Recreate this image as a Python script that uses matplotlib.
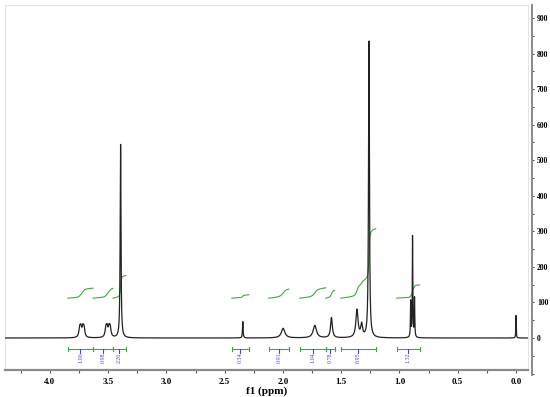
import numpy as np
import matplotlib
matplotlib.use('Agg')
import matplotlib.pyplot as plt
from matplotlib.ticker import MultipleLocator

# ── 피크 목록 (ppm, 높이, 반치반폭) ──────────────────────────────
peak_ppm = [3.745, 3.735, 3.718, 3.708,
            3.520, 3.510, 3.493, 3.483,
            3.394, 2.345, 1.999, 1.727, 1.584,
            1.365, 1.325, 1.262,
            0.904, 0.888, 0.871, 0.000]
peak_height = [24, 24, 24, 24,
               24, 24, 24, 24,
               545, 46, 27, 35, 57,
               78, 35, 835,
               100, 285, 110, 64]
peak_width = [0.008, 0.008, 0.008, 0.008,
              0.008, 0.008, 0.008, 0.008,
              0.004, 0.003, 0.018, 0.017, 0.009,
              0.011, 0.009, 0.0045,
              0.0025, 0.0025, 0.0025, 0.002]

# ── 적분 구간 ────────────────────────────────────────────────
int_start = [3.846, 3.631, 3.460, 2.439, 2.122, 1.856, 1.633, 1.504, 1.024]
int_end = [3.631, 3.460, 3.348, 2.293, 1.950, 1.633, 1.556, 1.204, 0.827]
int_value = [1.00, 0.98, 2.26, 0.34, 0.91, 1.04, 0.78, 6.95, 1.32]

x_ticks = [4.0, 3.5, 3.0, 2.5, 2.0, 1.5, 1.0, 0.5, 0.0]
y_ticks = [0, 100, 200, 300, 400, 500, 600, 700, 800, 900]

# 스펙트럼 계산 (로렌츠 합)
ppm = np.linspace(4.386, -0.103, 9000)
spec = np.zeros_like(ppm)
for c, h, g in zip(peak_ppm, peak_height, peak_width):
    spec += h * g ** 2 / ((ppm - c) ** 2 + g ** 2)

fig = plt.figure(figsize=(5.5, 3.97), dpi=100)
fig.patch.set_facecolor('white')

ax = fig.add_axes([5 / 550, 1 - 370 / 397, 523 / 550, 365 / 397])
ax.set_xlim(4.386, -0.103)
ax.set_ylim(-90, 936.5)
ax.plot(ppm, spec, color='#222222', lw=0.9, zorder=3)

green = '#3cab3c'
blue = '#4a4ac8'
base = 112
scale = 28.1
for s, e, v in zip(int_start, int_end, int_value):
    m = (ppm <= s) & (ppm >= e)
    cum = np.cumsum(spec[m] + 1.5)   # 약간의 기울기
    curve = base + cum / cum[-1] * v * scale
    ax.plot(ppm[m], curve, color=green, lw=0.8, zorder=2)
    # 적분 브래킷
    ax.plot([s, e], [-31, -31], color=green, lw=0.8)
    ax.plot([s, s], [-36, -26], color=green, lw=0.8)
    ax.plot([e, e], [-36, -26], color=green, lw=0.8)
    mid = (s + e) / 2
    ax.plot([mid, mid], [-31, -42], color=blue, lw=0.8)
    ax.text(mid, -55, f'{v:.2f}', rotation=90, ha='center', va='center',
            fontsize=4.3, color=blue, family='Liberation Serif')

for side in ['left', 'top', 'right']:
    ax.spines[side].set_color('#e4e4e4')
ax.spines['bottom'].set_color('#8a8a8a')
ax.spines['bottom'].set_linewidth(1.6)
ax.set_yticks([])
ax.set_xticks(x_ticks)
ax.set_xticklabels([f'{t:.1f}' for t in x_ticks], fontsize=6.5,
                   fontweight='bold', family='Liberation Serif')
ax.xaxis.set_minor_locator(MultipleLocator(0.25))
ax.tick_params(axis='x', which='both', direction='out', length=2,
               width=0.8, color='#555555', pad=4)
ax.set_xlabel('f1 (ppm)', fontsize=8, fontweight='bold',
              family='Liberation Serif', labelpad=0)

# 오른쪽 세로축
rax = fig.add_axes([532 / 550, 1 - 375 / 397, 0.0001, 370 / 397])
rax.set_ylim(-104, 936.5)
rax.patch.set_visible(False)
for side in ['left', 'top', 'bottom']:
    rax.spines[side].set_visible(False)
rax.spines['right'].set_color('#8a8a8a')
rax.spines['right'].set_linewidth(1.4)
rax.set_xticks([])
rax.yaxis.tick_right()
rax.set_yticks(y_ticks)
rax.set_yticklabels([str(t) for t in y_ticks], fontsize=5.5,
                    fontweight='bold', family='Liberation Serif')
rax.yaxis.set_minor_locator(MultipleLocator(50))
rax.tick_params(axis='y', which='both', direction='out', length=1.5,
                width=0.8, color='#555555', pad=2)

plt.savefig('out.png', dpi=100, facecolor='white')
plt.close()
